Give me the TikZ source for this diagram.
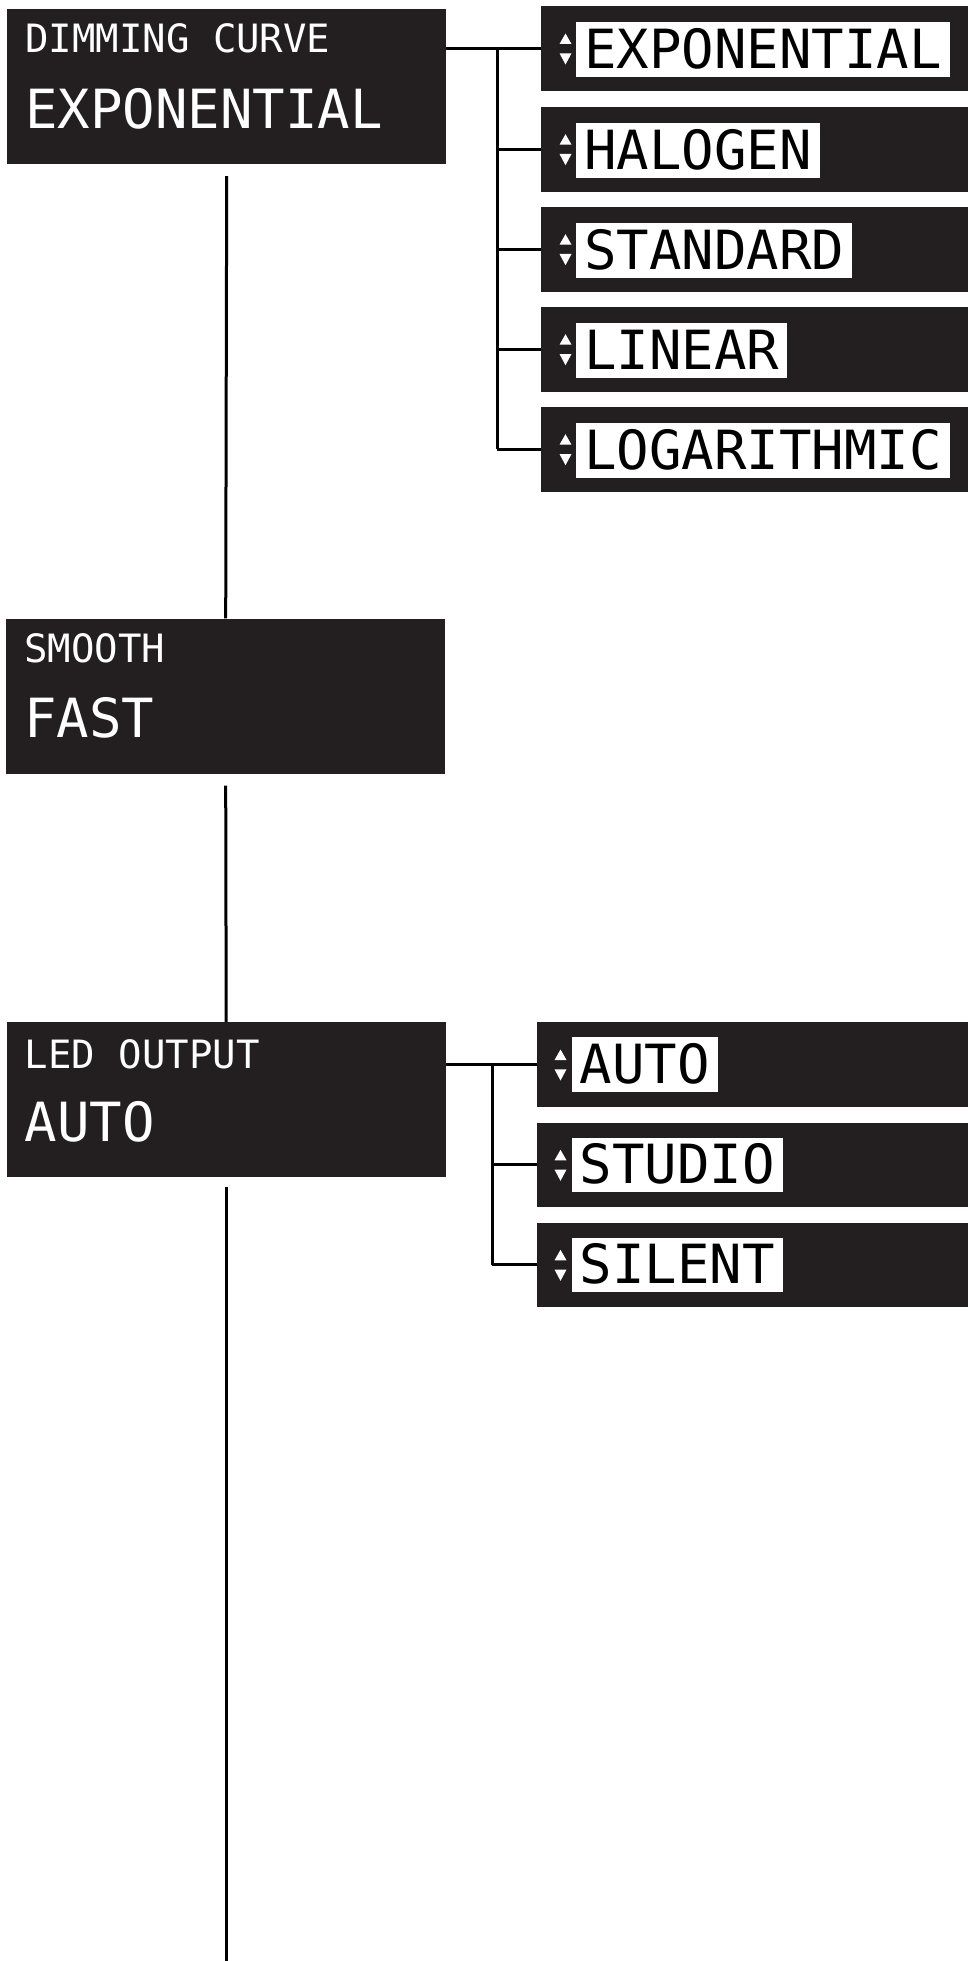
\documentclass[tikz,border=0pt]{standalone}
\usepackage{fontspec}
\newfontfamily\dotfont{DejaVu Sans Mono}
\definecolor{lcd}{HTML}{231F20}
\begin{document}
\begin{tikzpicture}[x=1pt,y=-1pt,
  mainbox/.style={fill=lcd, draw=none, minimum width=439pt, minimum height=155pt, anchor=north west, inner sep=0pt},
  optbox/.style={fill=lcd, draw=none, minimum height=84.7pt, anchor=north west, inner sep=0pt},
  lbl/.style={text=white, font=\dotfont\fontsize{39}{39}\selectfont, anchor=base west, inner sep=0pt},
  val/.style={text=white, font=\dotfont\fontsize{54}{54}\selectfont, anchor=base west, inner sep=0pt},
  sel/.style={fill=white, text=black, font=\dotfont\fontsize{54}{54}\selectfont, anchor=north west,
     inner xsep=8pt, inner ysep=8.35pt, text height=38pt, text depth=0pt},
  conn/.style={draw=black, line width=3pt},
  tri/.style={fill=white, draw=none}]
\useasboundingbox (0,0) rectangle (968,1961);

% main boxes
\node[mainbox] (dc) at (7,8.7) {};
\node[mainbox] (sm) at (6,618.3) {};
\node[mainbox] (led) at (6.5,1022) {};

\node[lbl] (dcl) at ([shift={(18,44)}]dc.north west) {DIMMING CURVE};
\node[val] (dcv) at ([shift={(18,119.6)}]dc.north west) {EXPONENTIAL};
\node[lbl] (sml) at ([shift={(18,44)}]sm.north west) {SMOOTH};
\node[val] (smv) at ([shift={(18,119.6)}]sm.north west) {FAST};
\node[lbl] (ledl) at ([shift={(18,46)}]led.north west) {LED OUTPUT};
\node[val] (ledv) at ([shift={(18,119.6)}]led.north west) {AUTO};

% option boxes, group 1
\foreach \n/\y/\t in {o1/6/EXPONENTIAL, o2/106.7/HALOGEN, o3/206.7/STANDARD, o4/306.7/LINEAR, o5/406.7/LOGARITHMIC}{
  \node[optbox, minimum width=427pt] (\n) at (541,\y) {};
  \node[sel, xshift=35pt, yshift=-16pt] (\n t) at (\n.north west) {\t};
  \fill[tri] ([shift={(24.5,27.5)}]\n.north west) -- ([shift={(30.5,38)}]\n.north west) -- ([shift={(18.5,38)}]\n.north west) -- cycle;
  \fill[tri] ([shift={(18.5,47.3)}]\n.north west) -- ([shift={(30.5,47.3)}]\n.north west) -- ([shift={(24.5,58.5)}]\n.north west) -- cycle;
}
% option boxes, group 2
\foreach \n/\y/\t in {p1/1022/AUTO, p2/1122.3/STUDIO, p3/1222.3/SILENT}{
  \node[optbox, minimum width=431pt] (\n) at (537,\y) {};
  \node[sel, xshift=34.5pt, yshift=-15pt] (\n t) at (\n.north west) {\t};
  \fill[tri] ([shift={(23.5,27.5)}]\n.north west) -- ([shift={(29.5,38)}]\n.north west) -- ([shift={(17.5,38)}]\n.north west) -- cycle;
  \fill[tri] ([shift={(17.5,47.3)}]\n.north west) -- ([shift={(29.5,47.3)}]\n.north west) -- ([shift={(23.5,58.5)}]\n.north west) -- cycle;
}

% connectors group 1
\coordinate (b1) at (497,0);
\draw[conn] (dc.east |- o1.west) -- (o1.west);
\draw[conn] (b1 |- o1.west) -- (b1 |- o5.west);
\foreach \n in {o2,o3,o4,o5}{ \draw[conn] (b1 |- \n.west) -- (\n.west); }

% connectors group 2
\coordinate (b2) at (492,0);
\draw[conn] (led.east |- p1.west) -- (p1.west);
\draw[conn] (b2 |- p1.west) -- (b2 |- p3.west);
\foreach \n in {p2,p3}{ \draw[conn] (b2 |- \n.west) -- (\n.west); }

% main spine
\coordinate (end) at (226,1961);
\draw[conn] ([yshift=-12pt]dc.south) -- (sm.north);
\draw[conn] ([yshift=-12pt]sm.south) -- (led.north);
\draw[conn] ([yshift=-10pt]led.south) -- (led.south |- end);
\end{tikzpicture}
\end{document}
